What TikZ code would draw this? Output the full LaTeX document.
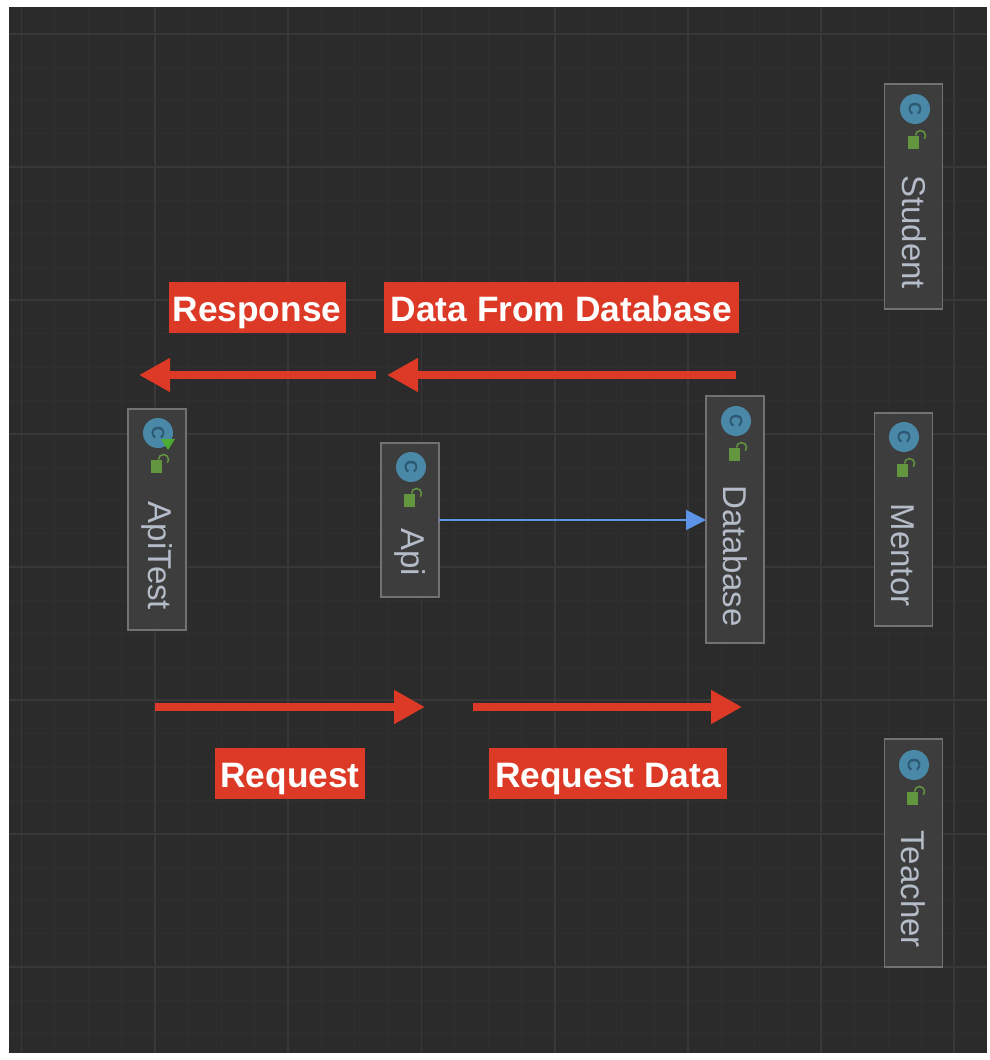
\documentclass[tikz,border=0pt]{standalone}
\usepackage{fontspec}
\setmainfont{Liberation Sans}
\usepackage{tikz}
\usetikzlibrary{arrows.meta,positioning,calc}

\definecolor{canvasbg}{HTML}{2B2B2B}
\definecolor{gridmajor}{HTML}{383838}
\definecolor{gridminor}{HTML}{2F2F2F}
\definecolor{classfill}{HTML}{3D3D3D}
\definecolor{classline}{HTML}{727272}
\definecolor{classtext}{HTML}{B4BCC8}
\definecolor{iconblue}{HTML}{4A88A8}
\definecolor{iconc}{HTML}{2C5A72}
\definecolor{icongreen}{HTML}{62963F}
\definecolor{markred}{HTML}{DC3A26}
\definecolor{linkblue}{HTML}{5E94E8}

\begin{document}
\begin{tikzpicture}[
    x=1pt, y=-1pt,
    classbox/.style={rectangle, draw=classline, fill=classfill, line width=1.6pt, inner sep=0pt, outer sep=0pt},
    classname/.style={rotate=-90, text=classtext, inner sep=0pt, font=\fontsize{33}{36}\selectfont},
    classicon/.style={circle, fill=iconblue, minimum size=30pt, inner sep=0pt, text=iconc, font=\bfseries\fontsize{18}{18}\selectfont, rotate=-90},
    redtag/.style={rectangle, fill=markred, text=white, inner sep=0pt, text height=39pt, text depth=12pt, font=\bfseries\fontsize{35.3}{38}\selectfont},
    redarrow/.style={-{Triangle[length=31pt,width=32pt]}, line width=8pt, draw=markred},
    bluearrow/.style={-{Triangle[length=20pt,width=20pt]}, line width=1.6pt, draw=linkblue}
]
\useasboundingbox (0,0) rectangle (990,1060);
\fill[white] (0,0) rectangle (990,1060);
\fill[canvasbg] (9,7) rectangle (987,1053);

% Grid
\foreach \gx in {1,...,29} {
    \draw[gridminor, line width=1pt] (21.5+33.33*\gx-33.33,7) -- (21.5+33.33*\gx-33.33,1053);
}
\foreach \gy in {1,...,31} {
    \draw[gridminor, line width=1pt] (9,34+33.33*\gy-33.33) -- (987,34+33.33*\gy-33.33);
}
\foreach \gx in {21.5,155,288,421.5,555,688,821,954} {
    \draw[gridmajor, line width=1.3pt] (\gx,7) -- (\gx,1053);
}
\foreach \gy in {34,167,300,434,567,700,834,967} {
    \draw[gridmajor, line width=1.3pt] (9,\gy) -- (987,\gy);
}

% Class boxes
\node[classbox, minimum width=58pt, minimum height=225pt] (student) at (913.5,196.5) {};
\node[classbox, minimum width=58pt, minimum height=221pt] (apitest) at (157,519.5) {};
\node[classbox, minimum width=58pt, minimum height=154pt] (api) at (410,520) {};
\node[classbox, minimum width=58pt, minimum height=247pt] (database) at (735,519.5) {};
\node[classbox, minimum width=58pt, minimum height=213pt] (mentor) at (903.5,519.5) {};
\node[classbox, minimum width=58pt, minimum height=228pt] (teacher) at (913.5,853) {};

\node[classname] (studentname) at (914,232) {Student};
\node[classname] (apitestname) at (157,556) {ApiTest};
\node[classname] (apiname) at (410,552) {Api};
\node[classname] (databasename) at (735,556) {Database};
\node[classname] (mentorname) at (903,555) {Mentor};
\node[classname] (teachername) at (913,889) {Teacher};

% Icons: class circle and open lock
\foreach \ix/\iy/\iname in {915/109/student, 158/433/apitest, 411/467/api, 736/421/database, 904/437/mentor, 914/765/teacher} {
    \node[classicon] (\iname icon) at (\ix,\iy) {C};
    \fill[icongreen] ($(\ix,\iy)+(-7.5,27)$) rectangle ($(\ix,\iy)+(4,39.5)$);
    \draw[icongreen, line width=1.5pt] ($(\ix,\iy)+(0.5,26.5)$) arc[start angle=180, end angle=-40, radius=5pt];
}
\fill[icongreen!80!green] (161,439) -- (175,439) -- (168,450) -- cycle;

% Blue link
\draw[bluearrow] (api.east) -- (api.east -| database.west);

% Red notes
\node[redtag, minimum width=177pt] (response) at (257,307.5) {Response};
\node[redtag, minimum width=355pt] (dbdata) at (561.5,307.5) {Data From Database};
\node[redtag, minimum width=150pt] (request) at (290,773.5) {Request};
\node[redtag, minimum width=238pt] (requestdata) at (608,773.5) {Request Data};

\coordinate (r1start) at (376,375);
\coordinate (r1end) at (139,375);
\coordinate (r2start) at (736,375);
\coordinate (r2end) at (387,375);
\coordinate (r3start) at (155,707);
\coordinate (r3end) at (425,707);
\coordinate (r4start) at (473,707);
\coordinate (r4end) at (742,707);
\draw[redarrow] (r1start) -- (r1end);
\draw[redarrow] (r2start) -- (r2end);
\draw[redarrow] (r3start) -- (r3end);
\draw[redarrow] (r4start) -- (r4end);

\end{tikzpicture}
\end{document}
